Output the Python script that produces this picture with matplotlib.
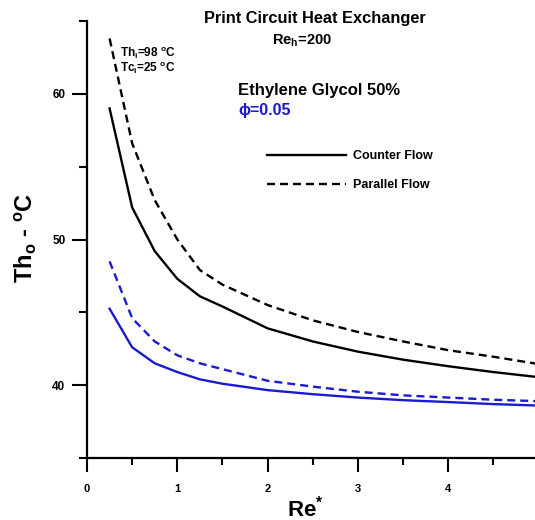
import matplotlib
matplotlib.use("Agg")
import matplotlib.pyplot as plt
from matplotlib.lines import Line2D
from matplotlib.ticker import MultipleLocator

plt.rcParams["font.family"] = ["Liberation Sans", "DejaVu Sans"]
plt.rcParams["font.weight"] = "bold"
plt.rcParams["mathtext.fontset"] = "custom"
plt.rcParams["mathtext.rm"] = "Liberation Sans:bold"
plt.rcParams["mathtext.it"] = "Liberation Sans:bold"
plt.rcParams["mathtext.bf"] = "Liberation Sans:bold"

# Re* values
re_star = [0.25, 0.5, 0.75, 1.0, 1.25, 1.5, 2.0, 2.5, 3.0, 3.5, 4.0, 4.5, 5.0]
# base fluid (black)
th_counter_base = [59.0, 52.2, 49.2, 47.3, 46.1, 45.4, 43.9, 43.0, 42.3, 41.75, 41.3, 40.9, 40.55]
th_parallel_base = [63.8, 56.6, 52.7, 50.0, 47.9, 46.9, 45.5, 44.45, 43.65, 43.0, 42.4, 41.95, 41.45]
# nanofluid phi=0.05 (blue)
th_counter_nano = [45.25, 42.6, 41.5, 40.9, 40.4, 40.1, 39.66, 39.38, 39.15, 38.97, 38.84, 38.7, 38.6]
th_parallel_nano = [48.5, 44.6, 43.0, 42.05, 41.5, 41.1, 40.3, 39.9, 39.55, 39.3, 39.15, 39.0, 38.9]

BLUE = "#1a1ad2"
DASH = (3.4, 2.1)
LW = 1.7

fig = plt.figure(figsize=(5.35, 5.2), dpi=100)
ax = fig.add_axes([87 / 535, 1 - 458 / 520, 1 - 87 / 535, 437 / 520])

ax.plot(re_star, th_counter_base, color="k", lw=LW)
ax.plot(re_star, th_parallel_base, color="k", lw=LW, ls="--", dashes=DASH)
ax.plot(re_star, th_counter_nano, color=BLUE, lw=LW)
ax.plot(re_star, th_parallel_nano, color=BLUE, lw=LW, ls="--", dashes=DASH)

ax.set_xlim(0, 4.96)
ax.set_ylim(35, 65)
ax.xaxis.set_major_locator(MultipleLocator(1))
ax.xaxis.set_minor_locator(MultipleLocator(0.5))
ax.yaxis.set_minor_locator(MultipleLocator(5))
ax.set_yticks([40, 50, 60])

for s in ["top", "right"]:
    ax.spines[s].set_visible(False)
for s in ["left", "bottom"]:
    ax.spines[s].set_linewidth(1.6)

ax.tick_params(axis="x", which="major", length=10, width=1.5, pad=9, labelsize=8)
ax.tick_params(axis="x", which="minor", length=5, width=1.5)
ax.tick_params(axis="y", which="major", length=11, width=1.5, pad=4.5, labelsize=8.5)
ax.tick_params(axis="y", which="minor", length=5.5, width=1.5)
for lab in ax.get_xticklabels() + ax.get_yticklabels():
    lab.set_fontweight("bold")

ax.set_xlabel("Re$^{*}$", fontsize=16, fontweight="bold")
ax.xaxis.set_label_coords(0.488, -0.085)
ax.set_ylabel("Th$_\\mathrm{o}$ - $^\\mathrm{o}$C", fontsize=17, fontweight="bold")
ax.yaxis.set_label_coords(-0.108, 0.503)

fig.text(315 / 535, 1 - 18 / 520, "Print Circuit Heat Exchanger", ha="center", va="center",
         fontsize=11.8, fontweight="bold")
fig.text(302 / 535, 1 - 41 / 520, "Re$_\\mathrm{h}$=200", ha="center", va="center",
         fontsize=10.5, fontweight="bold")
fig.text(120 / 535, 1 - 53 / 520, "Th$_\\mathrm{i}$=98 $^\\mathrm{o}$C", ha="left", va="center",
         fontsize=8.5, fontweight="bold")
fig.text(120 / 535, 1 - 68 / 520, "Tc$_\\mathrm{i}$=25 $^\\mathrm{o}$C", ha="left", va="center",
         fontsize=8.5, fontweight="bold")
fig.text(238 / 535, 1 - 90 / 520, "Ethylene Glycol 50%", ha="left", va="center",
         fontsize=12, fontweight="bold")
fig.text(238 / 535, 1 - 111 / 520, "\u03d5=0.05", ha="left", va="center",
         fontsize=11.5, fontweight="bold", color=BLUE)

handles = [Line2D([], [], color="k", lw=LW),
           Line2D([], [], color="k", lw=LW, ls="--", dashes=DASH)]
ax.legend(handles, ["Counter Flow", "Parallel Flow"], loc="upper left",
          bbox_to_anchor=(267 / 535, 1 - 150 / 520), bbox_transform=fig.transFigure,
          frameon=False, handlelength=6.3, handletextpad=0.55,
          labelspacing=1.35, borderpad=0, borderaxespad=0,
          prop={"weight": "bold", "size": 9})

fig.savefig("out.png", dpi=100)
